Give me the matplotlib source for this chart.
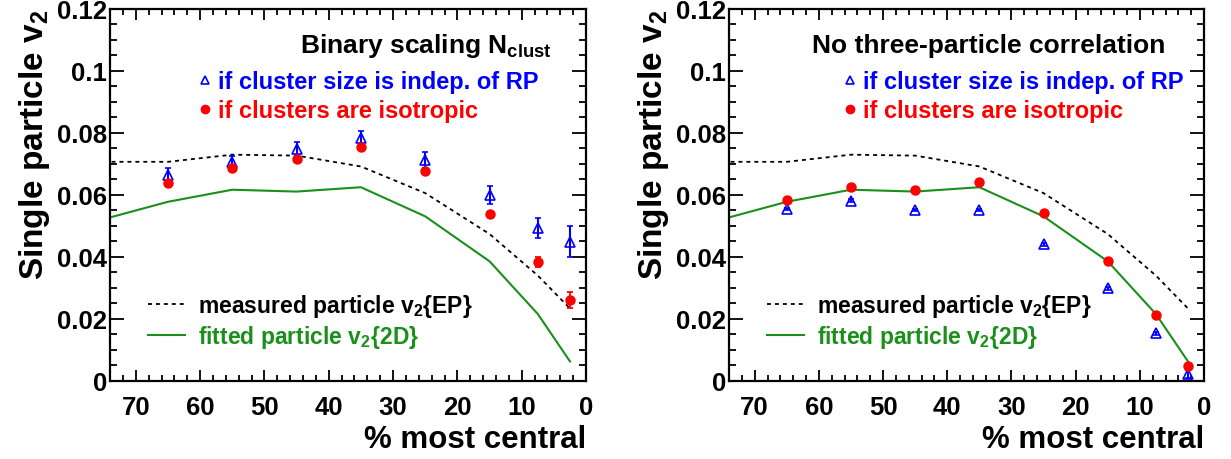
import matplotlib
matplotlib.use("Agg")
import matplotlib.pyplot as plt
from matplotlib.lines import Line2D
from matplotlib.ticker import MultipleLocator, FuncFormatter

plt.rcParams['font.family'] = ['Liberation Sans', 'DejaVu Sans']
plt.rcParams['font.weight'] = 'bold'
plt.rcParams['axes.labelweight'] = 'bold'
plt.rcParams['mathtext.fontset'] = 'custom'
plt.rcParams['mathtext.rm'] = 'Liberation Sans:bold'
plt.rcParams['mathtext.it'] = 'Liberation Sans:bold'
plt.rcParams['mathtext.bf'] = 'Liberation Sans:bold'

# centrality bins (% most central)
cent = [65, 55, 45, 35, 25, 15, 7.5, 2.5]
# curves extend to the left edge of the frame
cent_line = [75, 65, 55, 45, 35, 25, 15, 7.5, 2.5]
v2_ep = [0.0707, 0.0707, 0.0730, 0.0727, 0.0692, 0.0606, 0.0474, 0.0340, 0.0234]
v2_2d = [0.0522, 0.0578, 0.0617, 0.0611, 0.0625, 0.0531, 0.0386, 0.0216, 0.0063]

# left: binary scaling N_clust
bin_indep = [0.0665, 0.0705, 0.0748, 0.0783, 0.0713, 0.0600, 0.0493, 0.0449]
bin_indep_err = [0.0022, 0.0022, 0.0024, 0.0023, 0.0026, 0.0028, 0.0033, 0.0050]
bin_iso = [0.0639, 0.0686, 0.0716, 0.0755, 0.0677, 0.0538, 0.0384, 0.0262]
bin_iso_err = [0.0007, 0.0007, 0.0007, 0.0007, 0.0007, 0.0008, 0.0017, 0.0026]

# right: no three-particle correlation
no3_indep = [0.0555, 0.0582, 0.0552, 0.0552, 0.0441, 0.0299, 0.0154, 0.0022]
no3_indep_err = [0.0004, 0.0004, 0.0004, 0.0004, 0.0004, 0.0004, 0.0005, 0.0012]
no3_iso = [0.0585, 0.0625, 0.0617, 0.0641, 0.0542, 0.0387, 0.0213, 0.0049]
no3_iso_err = [0.0003, 0.0003, 0.0003, 0.0003, 0.0003, 0.0003, 0.0004, 0.0006]

titles = ['Binary scaling N$_{clust}$', 'No three-particle correlation']
title_x = [0.399, 0.175]
marker_leg_x = [0.185, 0.24]

GREEN = '#1a8f1a'
BLUE = '#0000ff'
RED = '#ff0000'

fig = plt.figure(figsize=(12.31, 4.6), dpi=100)
ax_l = fig.add_axes([0.0894, 0.1696, 0.3867, 0.8087])
ax_r = fig.add_axes([0.5922, 0.1696, 0.3859, 0.8087])

panels = [
    (ax_l, bin_indep, bin_indep_err, bin_iso, bin_iso_err),
    (ax_r, no3_indep, no3_indep_err, no3_iso, no3_iso_err),
]

for k, (ax, indep, indep_err, iso, iso_err) in enumerate(panels):
    l_ep, = ax.plot(cent_line, v2_ep, color='k', lw=1.3, ls=(0, (2.2, 2.2)))
    l_2d, = ax.plot(cent_line, v2_2d, color=GREEN, lw=1.5)
    ax.errorbar(cent, indep, yerr=indep_err, fmt='^', ms=7, mfc='none', mec=BLUE,
                mew=1.2, ecolor=BLUE, elinewidth=1.5, capsize=2.5, capthick=1.5, zorder=4)
    ax.errorbar(cent, iso, yerr=iso_err, fmt='o', ms=6.5, mfc=RED, mec=RED,
                ecolor=RED, elinewidth=1.3, capsize=2, capthick=1.3, zorder=5)

    ax.set_xlim(74, 0)
    ax.set_ylim(0, 0.12)
    ax.xaxis.set_major_locator(MultipleLocator(10))
    ax.xaxis.set_minor_locator(MultipleLocator(2))
    ax.yaxis.set_major_locator(MultipleLocator(0.02))
    ax.yaxis.set_minor_locator(MultipleLocator(0.005))
    ax.yaxis.set_major_formatter(FuncFormatter(lambda v, p: '%g' % round(v, 3)))
    ax.xaxis.set_major_formatter(FuncFormatter(lambda v, p: '%g' % v))
    ax.tick_params(which='both', direction='in', top=True, right=True, width=1.3)
    ax.tick_params(axis='x', which='major', length=8, pad=10, labelsize=18.5)
    ax.tick_params(axis='x', which='minor', length=4)
    ax.tick_params(axis='y', which='major', length=10, pad=2, labelsize=18.5)
    ax.tick_params(axis='y', which='minor', length=5)
    for s in ax.spines.values():
        s.set_linewidth(1.6)

    ax.set_xlabel('% most central', fontsize=22.5, loc='right', labelpad=4)
    ax.set_ylabel('Single particle v$_2$', fontsize=24, loc='top', labelpad=4)

    ax.text(title_x[k], 0.884, titles[k], transform=ax.transAxes, fontsize=19,
            ha='left', va='baseline')

    h_indep = Line2D([], [], ls='none', marker='^', ms=6, mfc='none', mec=BLUE, mew=1.2)
    h_iso = Line2D([], [], ls='none', marker='o', ms=6, mfc=RED, mec=RED)
    leg1 = ax.legend([h_indep, h_iso],
                     ['if cluster size is indep. of RP', 'if clusters are isotropic'],
                     loc='upper left', bbox_to_anchor=(marker_leg_x[k], 0.835),
                     frameon=False, fontsize=17, handlelength=0.6, handletextpad=0.25,
                     labelspacing=0.25, borderpad=0, borderaxespad=0,
                     labelcolor=[BLUE, RED])
    ax.add_artist(leg1)
    ax.legend([l_ep, l_2d],
              ['measured particle v$_2${EP}', 'fitted particle v$_2${2D}'],
              loc='upper left', bbox_to_anchor=(0.08, 0.24),
              frameon=False, fontsize=16.5, handlelength=1.6, handletextpad=0.57,
              labelspacing=0.2, borderpad=0, borderaxespad=0,
              labelcolor=['k', GREEN])

fig.savefig('out.png', dpi=100)
